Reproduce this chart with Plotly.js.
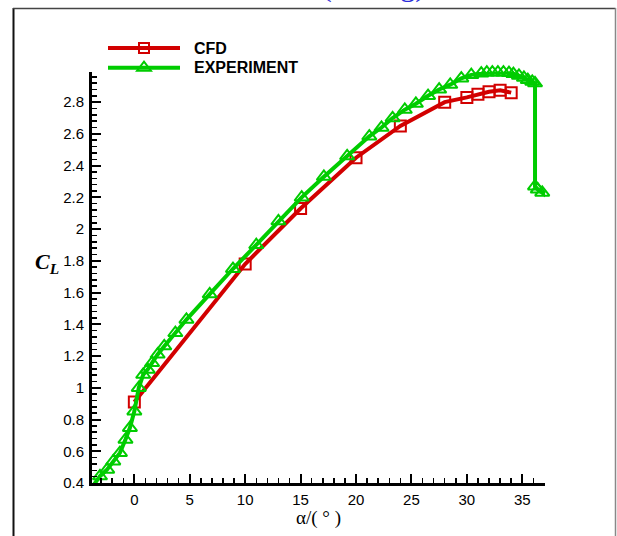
<!DOCTYPE html>
<html><head><meta charset="utf-8">
<script src="https://cdn.plot.ly/plotly-3.0.1.min.js"></script>
<style>html,body{margin:0;padding:0;background:#fff}#chart{width:617px;height:536px}</style>
</head><body><div id="chart"></div>
<script>
// ---- data ----
const seriesNames = ['CFD', 'EXPERIMENT'];
const cfdAlpha = [0, 10, 15, 20, 24, 28, 30, 31, 32, 33, 34];
const cfdCL    = [0.91, 1.78, 2.13, 2.45, 2.65, 2.80, 2.83, 2.85, 2.865, 2.875, 2.86];
const expAlpha = [-3.8, -3.1, -2.45, -1.9, -1.3, -0.8, -0.4, 0.0, 0.4, 0.8, 1.2, 1.6, 2.1, 2.7, 3.7,
                  4.7, 6.8, 8.9, 11.0, 13.0, 15.1, 17.1, 19.2, 21.2, 22.3, 23.3, 24.4, 25.4, 26.5,
                  27.5, 28.5, 29.5, 30.4, 31.3, 31.8, 32.3, 32.8, 33.3, 33.8, 34.2, 34.7, 35.15,
                  35.5, 35.9, 36.15, 36.15, 36.4, 36.8, 37.15];
const expCL    = [0.375, 0.443, 0.485, 0.537, 0.59, 0.674, 0.748, 0.852, 1.0, 1.083, 1.115, 1.157, 1.21, 1.262, 1.346,
                  1.43, 1.59, 1.75, 1.90, 2.05, 2.20, 2.33, 2.46, 2.585, 2.64, 2.70, 2.753, 2.79, 2.84,
                  2.88, 2.91, 2.95, 2.972, 2.982, 2.987, 2.988, 2.988, 2.988, 2.985, 2.978, 2.967, 2.954,
                  2.94, 2.93, 2.92, 2.27, 2.25, 2.23, 2.21];
const xTitle = 'α/( ° )';
const yTitle = '<b><i>C<sub>L</sub></i></b>';
const chartTitle = 'Model (Config)';

// ---- layout helpers ----
const W = 617, H = 536, L = 92, R = 72, T = 72, B = 53;
const pw = W - L - R, ph = H - T - B;
const px = v => (v - L) / pw;
const py = v => (H - B - v) / ph;
const RED = '#d20000', GREEN = '#00cc00';

const traces = [
  {x: cfdAlpha, y: cfdCL, name: seriesNames[0], type: 'scatter', mode: 'lines+markers',
   line: {color: RED, width: 4}, cliponaxis: false,
   marker: {symbol: 'square-open', size: 11, color: RED, line: {color: RED, width: 2}}},
  {x: expAlpha, y: expCL, name: seriesNames[1], type: 'scatter', mode: 'lines+markers',
   line: {color: GREEN, width: 4}, cliponaxis: false,
   marker: {symbol: 'triangle-up-open', size: 12.5, color: GREEN, line: {color: GREEN, width: 2}}}
];

function hline(x0, x1, y, color, w) {
  return {type: 'line', xref: 'paper', yref: 'paper', x0: px(x0), x1: px(x1), y0: py(y), y1: py(y),
          line: {color: color, width: w}};
}
function vline(x, y0, y1, color, w) {
  return {type: 'line', xref: 'paper', yref: 'paper', x0: px(x), x1: px(x), y0: py(y0), y1: py(y1),
          line: {color: color, width: w}};
}
function squareShape(cx, cy, s, color) {
  return {type: 'rect', xref: 'paper', yref: 'paper', x0: px(cx - s / 2), x1: px(cx + s / 2),
          y0: py(cy + s / 2), y1: py(cy - s / 2), line: {color: color, width: 2}, fillcolor: 'rgba(0,0,0,0)'};
}
function triShape(cx, cy, s, color) {
  const r = s / 2, rt = r * 2 / Math.sqrt(3), r2 = r / 2;
  const p = [[cx - rt, cy + r2], [cx + rt, cy + r2], [cx, cy - r]];
  const d = 'M' + p.map(q => px(q[0]) + ',' + py(q[1])).join('L') + 'Z';
  return {type: 'path', xref: 'paper', yref: 'paper', path: d, line: {color: color, width: 2}};
}

const legendY = [48, 67.7];
const shapes = [
  // frame
  vline(13.5, 8, 545, '#111', 2),
  hline(13, 615.5, 8.5, '#444', 1.5),
  vline(615.5, 8, 545, '#888', 1.5),
  // legend
  hline(108, 180, legendY[0], RED, 4),
  squareShape(144, legendY[0], 10, RED),
  hline(108, 180, legendY[1], GREEN, 4),
  triShape(144, legendY[1], 12, GREEN)
];

const annotations = [
  {text: chartTitle, xref: 'paper', yref: 'paper', x: px(330), y: py(5.5), xanchor: 'center', yanchor: 'bottom',
   showarrow: false, font: {family: 'Liberation Serif, Times New Roman, serif', size: 30, color: '#2b2bd9'}},
  {text: seriesNames[0], xref: 'paper', yref: 'paper', x: px(192), y: py(legendY[0]), xanchor: 'left', yanchor: 'middle',
   showarrow: false, font: {family: 'Liberation Sans, Arial, sans-serif', size: 16, color: '#000', weight: 'bold'}},
  {text: seriesNames[1], xref: 'paper', yref: 'paper', x: px(192), y: py(legendY[1]), xanchor: 'left', yanchor: 'middle',
   showarrow: false, font: {family: 'Liberation Sans, Arial, sans-serif', size: 16, color: '#000', weight: 'bold'}},
  {text: xTitle, xref: 'paper', yref: 'paper', x: px(318), y: py(518), xanchor: 'center', yanchor: 'middle',
   showarrow: false, font: {family: 'Liberation Serif, Times New Roman, serif', size: 19, color: '#000'}},
  {text: yTitle, xref: 'paper', yref: 'paper', x: px(47), y: py(263), xanchor: 'center', yanchor: 'middle',
   showarrow: false, font: {family: 'Liberation Serif, Times New Roman, serif', size: 22, color: '#000'}}
];

const tickFont = {family: 'Liberation Sans, Arial, sans-serif', size: 15, color: '#000'};
const layout = {
  width: W, height: H,
  margin: {l: L, r: R, t: T, b: B, pad: 0},
  paper_bgcolor: '#fff', plot_bgcolor: '#fff',
  showlegend: false,
  xaxis: {range: [-3.82, 37.05], showline: true, linecolor: '#000', linewidth: 3,
          showgrid: false, zeroline: false, ticks: 'inside', ticklen: 9, tickwidth: 2, tickcolor: '#000',
          tick0: 0, dtick: 5, tickfont: tickFont, ticklabelstandoff: 1,
          minor: {ticks: 'inside', dtick: 1, ticklen: 5, tickwidth: 1.5, tickcolor: '#000', showgrid: false}},
  yaxis: {range: [0.4, 2.99], showline: true, linecolor: '#000', linewidth: 3,
          showgrid: false, zeroline: false, ticks: 'inside', ticklen: 9, tickwidth: 2, tickcolor: '#000',
          tick0: 0.4, dtick: 0.2, tickfont: tickFont, ticklabelstandoff: 2,
          minor: {ticks: 'inside', dtick: 0.04, ticklen: 5, tickwidth: 1.5, tickcolor: '#000', showgrid: false}},
  shapes: shapes,
  annotations: annotations
};

Plotly.newPlot('chart', traces, layout, {staticPlot: true, displayModeBar: false});
</script>
</body></html>
